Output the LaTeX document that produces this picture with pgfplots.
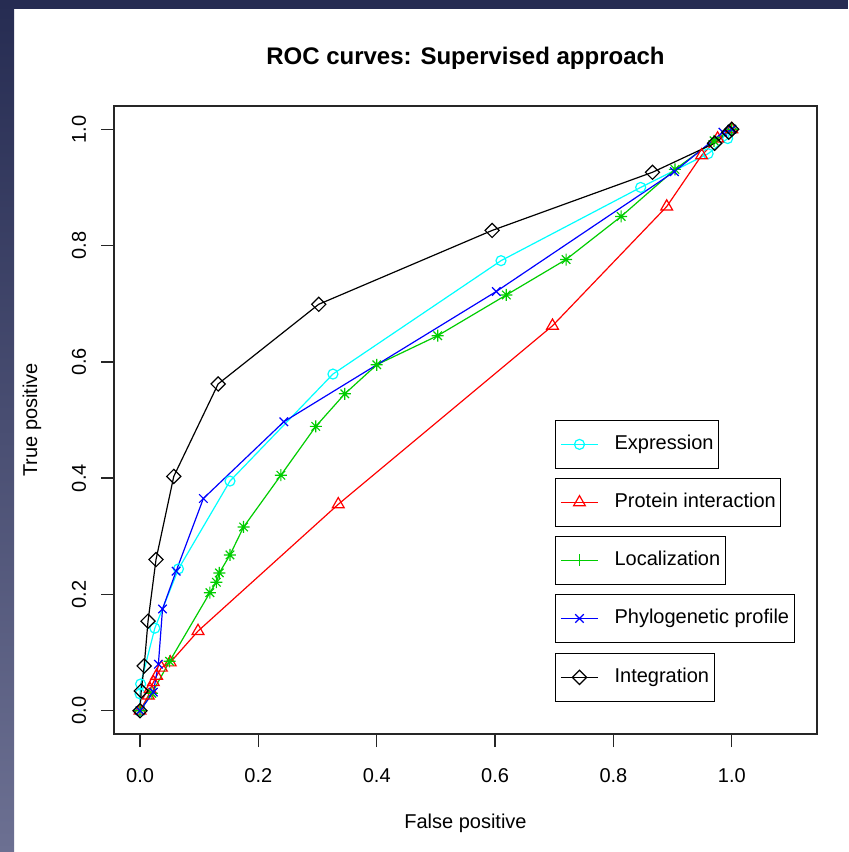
\documentclass[border=0pt]{standalone}
\usepackage{pgfplots}
\pgfplotsset{compat=1.18}
\usepackage{fontspec}
\setmainfont{Liberation Sans}

\definecolor{navy}{RGB}{38,44,82}
\definecolor{navylight}{RGB}{108,112,146}
\definecolor{rgreen}{RGB}{0,205,0}
\definecolor{rcyan}{RGB}{0,255,255}
\definecolor{rblue}{RGB}{0,0,255}
\definecolor{rred}{RGB}{255,0,0}

% R pch 8: plus and cross together
\pgfdeclareplotmark{rstar}{%
  \pgfpathmoveto{\pgfqpoint{-\pgfplotmarksize}{0pt}}%
  \pgfpathlineto{\pgfqpoint{\pgfplotmarksize}{0pt}}%
  \pgfpathmoveto{\pgfqpoint{0pt}{-\pgfplotmarksize}}%
  \pgfpathlineto{\pgfqpoint{0pt}{\pgfplotmarksize}}%
  \pgfpathmoveto{\pgfqpoint{-.707\pgfplotmarksize}{-.707\pgfplotmarksize}}%
  \pgfpathlineto{\pgfqpoint{.707\pgfplotmarksize}{.707\pgfplotmarksize}}%
  \pgfpathmoveto{\pgfqpoint{-.707\pgfplotmarksize}{.707\pgfplotmarksize}}%
  \pgfpathlineto{\pgfqpoint{.707\pgfplotmarksize}{-.707\pgfplotmarksize}}%
  \pgfusepathqstroke}

\pgfplotsset{
  rbase/.style={at={(57pt,59pt)}, anchor=south west, scale only axis,
    width=351.5pt, height=314pt,
    xmin=-0.044, xmax=1.144, ymin=-0.04, ymax=1.04},
  rleg/.style={rbase, hide axis,
    legend style={at={(0.627,#1)}, anchor=north west, draw=black, line width=0.6pt,
      fill=white, inner xsep=2.5pt, inner ysep=7pt, column sep=8pt,
      nodes={inner sep=0pt, text height=7.5pt, text depth=2.3pt,
        font=\fontsize{10}{12}\selectfont}},
    legend image code/.code={\draw[mark repeat=2,mark phase=2,##1]
      plot coordinates {(0pt,0pt) (9.25pt,0pt) (18.5pt,0pt)};}},
}

\newcommand{\legbox}[3]{%
  \begin{axis}[rleg=#1]
    \addlegendimage{#2}
    \addlegendentry{#3}
  \end{axis}}

\begin{document}
\begin{tikzpicture}
\useasboundingbox (0,0) rectangle (424pt,426pt);
\fill[white] (0,0) rectangle (424pt,426pt);
\shade[top color=navy, bottom color=navylight] (0,0) rectangle (7pt,426pt);
\fill[navy] (0,421.5pt) rectangle (424pt,426pt);

\begin{axis}[rbase,
  axis line style={black!85, line width=0.9pt},
  tick style={black!85, line width=0.7pt},
  tick align=outside, tick pos=left, major tick length=6.5pt,
  xtick={0,0.2,0.4,0.6,0.8,1}, ytick={0,0.2,0.4,0.6,0.8,1},
  /pgf/number format/.cd, fixed, fixed zerofill, precision=1, assume math mode=true, /pgfplots/.cd,
  ticklabel style={font=\fontsize{10}{12}\selectfont},
  every x tick label/.style={anchor=center, yshift=-14.5pt},
  every y tick label/.style={xshift=-11pt, rotate=90, anchor=center},
  title={ROC curves: Supervised approach},
  title style={at={(0.5,1)}, anchor=center, yshift=18pt, font=\bfseries\fontsize{12}{14}\selectfont},
  xlabel={False positive},
  every axis x label/.style={at={(axis description cs:0.5,0)}, anchor=center, yshift=-44.5pt, font=\fontsize{10}{12}\selectfont},
  ylabel={True positive},
  every axis y label/.style={at={(axis description cs:0,0.5)}, xshift=-41pt, rotate=90, anchor=center, font=\fontsize{10}{12}\selectfont},
  every axis plot/.append style={line width=0.6pt},
]
% Expression
\addplot[rcyan, mark=o, mark size=2.5pt] coordinates {
(0,0) (0.0,0.029) (0.001,0.046) (0.025,0.142) (0.065,0.244) (0.152,0.395)
(0.326,0.579) (0.610,0.774) (0.846,0.900) (0.960,0.958) (0.993,0.984) (1,1)
};
% Protein interaction
\addplot[rred, mark=triangle, mark size=3.4pt] coordinates {
(0,0) (0.014,0.026) (0.017,0.037) (0.0225,0.049) (0.028,0.060) (0.036,0.074)
(0.051,0.083) (0.098,0.137) (0.335,0.355) (0.697,0.662) (0.890,0.867)
(0.949,0.955) (0.976,0.984) (1,1)
};
% Localization
\addplot[rgreen, mark=rstar, mark size=3pt] coordinates {
(0,0) (0.02,0.03) (0.05,0.085) (0.118,0.203) (0.129,0.221) (0.134,0.237)
(0.152,0.268) (0.175,0.316) (0.238,0.405) (0.297,0.489) (0.346,0.545)
(0.400,0.595) (0.503,0.645) (0.619,0.715) (0.720,0.776) (0.813,0.850)
(0.904,0.931) (0.970,0.980) (1,1)
};
% Phylogenetic profile
\addplot[rblue, mark=x, mark size=3pt] coordinates {
(0,0) (0.0225,0.032) (0.031,0.080) (0.038,0.175) (0.061,0.240) (0.107,0.365)
(0.243,0.497) (0.602,0.721) (0.903,0.927) (0.985,0.995) (1,1)
};
% Integration
\addplot[black, mark=square, mark size=2.5pt, mark options={rotate=45}] coordinates {
(0,0) (0.002,0.034) (0.007,0.077) (0.0135,0.154) (0.027,0.260) (0.057,0.403)
(0.132,0.562) (0.302,0.699) (0.595,0.826) (0.866,0.926) (0.971,0.976)
(0.995,0.995) (1,1)
};
\end{axis}

\legbox{0.5}{rcyan, line width=0.6pt, mark=o, mark size=2.5pt}{Expression}
\legbox{0.4076}{rred, line width=0.6pt, mark=triangle, mark size=3.4pt}{Protein interaction}
\legbox{0.3153}{rgreen, line width=0.6pt, mark=+, mark size=3pt}{Localization}
\legbox{0.2229}{rblue, line width=0.6pt, mark=x, mark size=3pt}{Phylogenetic profile}
\legbox{0.129}{black, line width=0.6pt, mark=square, mark size=2.5pt, mark options={rotate=45}}{Integration}
\end{tikzpicture}
\end{document}
